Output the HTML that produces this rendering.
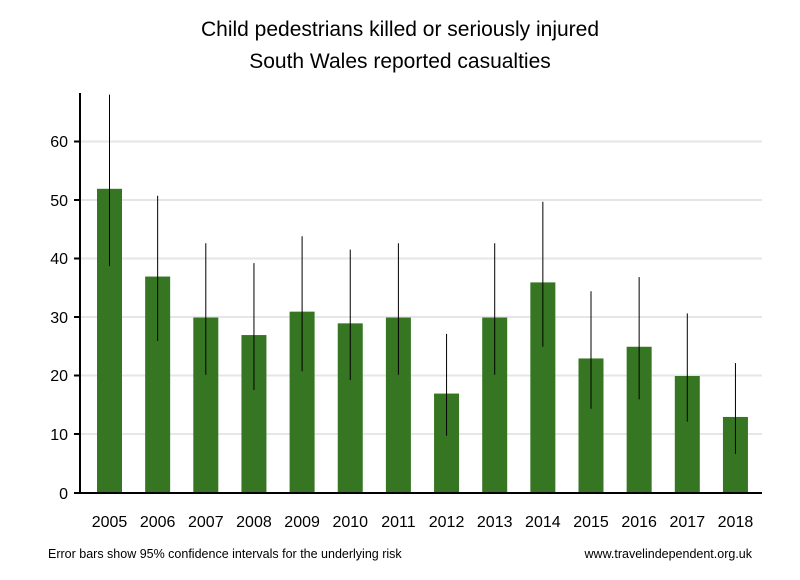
<!DOCTYPE html>
<html><head><style>
html,body{margin:0;padding:0;background:#fff;width:800px;height:580px;overflow:hidden}
text{font-family:"Liberation Sans",sans-serif;fill:#000}
</style></head><body>
<svg width="800" height="580" xmlns="http://www.w3.org/2000/svg">
<text x="400" y="36" font-size="21" text-anchor="middle">Child pedestrians killed or seriously injured</text>
<text x="400" y="68" font-size="21" text-anchor="middle">South Wales reported casualties</text>
<g stroke="#e6e6e6" stroke-width="2">
<line x1="80" x2="762" y1="141.5" y2="141.5"/>
<line x1="80" x2="762" y1="200" y2="200"/>
<line x1="80" x2="762" y1="258.5" y2="258.5"/>
<line x1="80" x2="762" y1="317" y2="317"/>
<line x1="80" x2="762" y1="375.5" y2="375.5"/>
<line x1="80" x2="762" y1="434" y2="434"/>
</g>
<g fill="#367622">
<rect x="97" y="188.8" width="25" height="304.2"/>
<rect x="145.15" y="276.55" width="25" height="216.45"/>
<rect x="193.3" y="317.5" width="25" height="175.5"/>
<rect x="241.45" y="335.05" width="25" height="157.95"/>
<rect x="289.6" y="311.65" width="25" height="181.35"/>
<rect x="337.75" y="323.35" width="25" height="169.65"/>
<rect x="385.9" y="317.5" width="25" height="175.5"/>
<rect x="434.05" y="393.55" width="25" height="99.45"/>
<rect x="482.2" y="317.5" width="25" height="175.5"/>
<rect x="530.35" y="282.4" width="25" height="210.6"/>
<rect x="578.5" y="358.45" width="25" height="134.55"/>
<rect x="626.65" y="346.75" width="25" height="146.25"/>
<rect x="674.8" y="376" width="25" height="117"/>
<rect x="722.95" y="416.95" width="25" height="76.05"/>
</g>
<g stroke="#000" stroke-width="1">
<line x1="109.5" x2="109.5" y1="94.6" y2="266"/>
<line x1="157.65" x2="157.65" y1="195.8" y2="340.9"/>
<line x1="205.8" x2="205.8" y1="243.2" y2="374.8"/>
<line x1="253.95" x2="253.95" y1="263.1" y2="390"/>
<line x1="302.1" x2="302.1" y1="236.2" y2="371.3"/>
<line x1="350.25" x2="350.25" y1="249.6" y2="380.1"/>
<line x1="398.4" x2="398.4" y1="243.2" y2="374.8"/>
<line x1="446.55" x2="446.55" y1="333.9" y2="435.7"/>
<line x1="494.7" x2="494.7" y1="243.2" y2="374.8"/>
<line x1="542.85" x2="542.85" y1="201.7" y2="346.75"/>
<line x1="591" x2="591" y1="291.2" y2="408.8"/>
<line x1="639.15" x2="639.15" y1="277.1" y2="399.4"/>
<line x1="687.3" x2="687.3" y1="313.4" y2="421.6"/>
<line x1="735.45" x2="735.45" y1="363.1" y2="453.8"/>
</g>
<g stroke="#000" stroke-width="2">
<line x1="80" x2="80" y1="93" y2="493"/>
<line x1="74" x2="762" y1="493" y2="493"/>
<line x1="74" x2="80" y1="141.5" y2="141.5"/>
<line x1="74" x2="80" y1="200" y2="200"/>
<line x1="74" x2="80" y1="258.5" y2="258.5"/>
<line x1="74" x2="80" y1="317" y2="317"/>
<line x1="74" x2="80" y1="375.5" y2="375.5"/>
<line x1="74" x2="80" y1="434" y2="434"/>
</g>
<g font-size="16" text-anchor="end">
<text x="68" y="147">60</text><text x="68" y="206">50</text><text x="68" y="264">40</text>
<text x="68" y="323">30</text><text x="68" y="381">20</text><text x="68" y="440">10</text>
<text x="68" y="499">0</text>
</g>
<g font-size="16" text-anchor="middle">
<text x="109.5" y="527">2005</text><text x="157.65" y="527">2006</text><text x="205.8" y="527">2007</text>
<text x="253.95" y="527">2008</text><text x="302.1" y="527">2009</text><text x="350.25" y="527">2010</text>
<text x="398.4" y="527">2011</text><text x="446.55" y="527">2012</text><text x="494.7" y="527">2013</text>
<text x="542.85" y="527">2014</text><text x="591" y="527">2015</text><text x="639.15" y="527">2016</text>
<text x="687.3" y="527">2017</text><text x="735.45" y="527">2018</text>
</g>
<text x="48" y="558" font-size="12.5">Error bars show 95% confidence intervals for the underlying risk</text>
<text x="752" y="558" font-size="12.5" text-anchor="end">www.travelindependent.org.uk</text>
</svg>
</body></html>
